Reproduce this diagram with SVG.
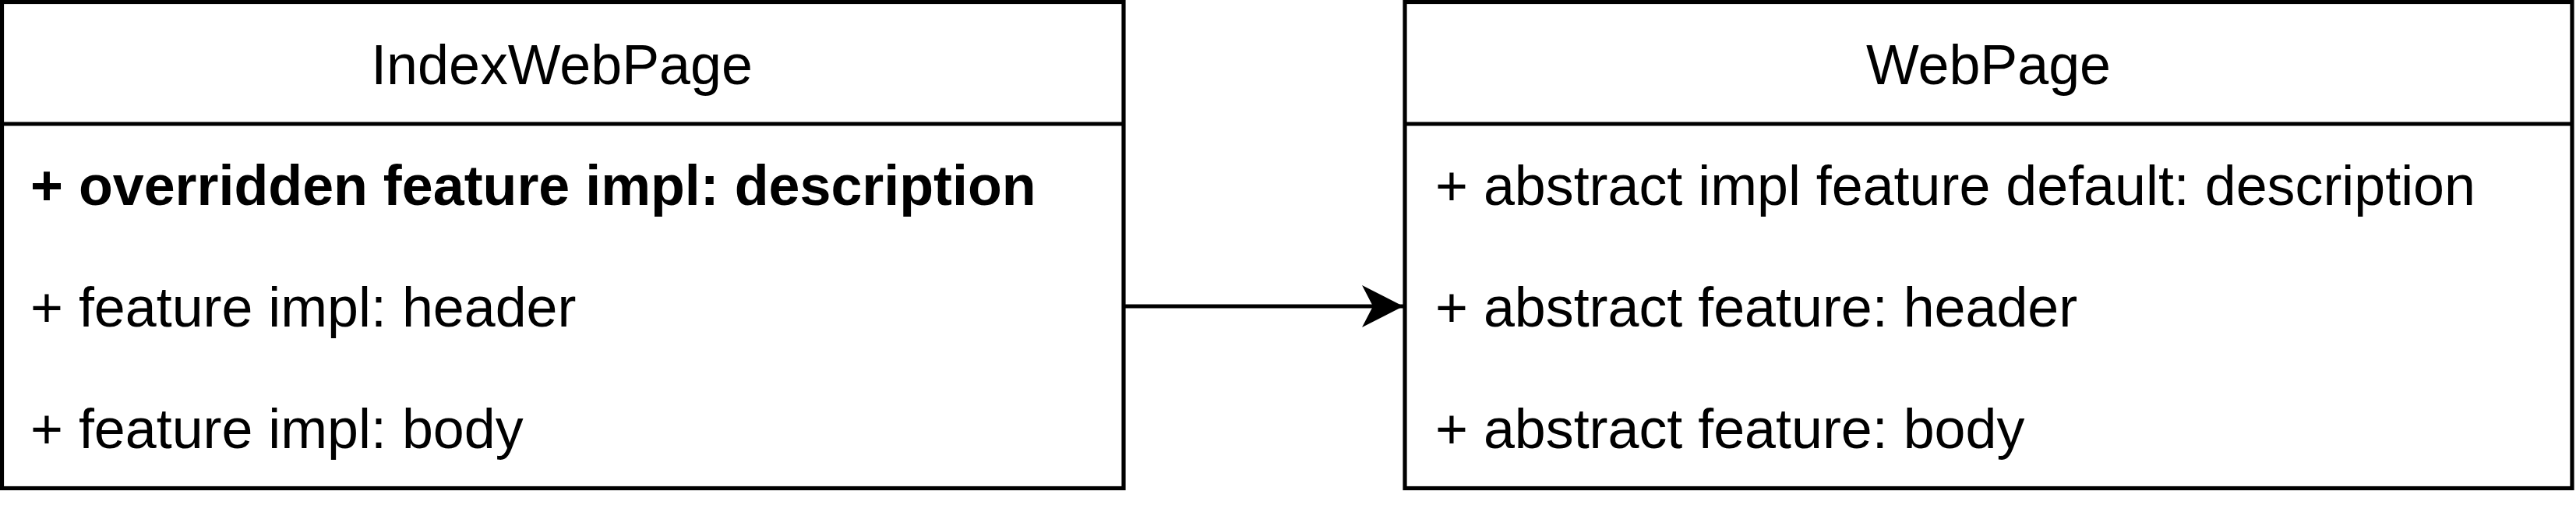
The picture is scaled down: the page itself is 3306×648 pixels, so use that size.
<svg xmlns="http://www.w3.org/2000/svg" width="3306" height="648" viewBox="0 0 3306 648">
<style>
.box{fill:#ffffff;stroke:#000000;stroke-width:5.2}
.sep{stroke:#000000;stroke-width:5.2}
.t{font-family:"Liberation Sans",Arial,Helvetica,sans-serif;font-size:71.8px;fill:#000000}
.title{text-anchor:middle}
.b{font-weight:bold}
.edge{stroke:#000000;stroke-width:5;fill:none}
</style>
<defs>
<marker id="arr" markerUnits="userSpaceOnUse" markerWidth="60" markerHeight="60" refX="53" refY="27" orient="auto">
<path d="M53,27 L0,0 L14,27 L0,54 Z" fill="#000000"/>
</marker>
</defs>
<rect width="3306" height="648" fill="#ffffff"/>
<g id="IndexWebPage">
<rect class="box" x="2.5" y="2.5" width="1439.5" height="624"/>
<line class="sep" x1="2.5" y1="159" x2="1442" y2="159"/>
<text class="t title" x="721" y="108">IndexWebPage</text>
<text class="t b" x="39" y="263">+ overridden feature impl: description</text>
<text class="t" x="39" y="419">+ feature impl: header</text>
<text class="t" x="39" y="575">+ feature impl: body</text>
</g>
<g id="WebPage">
<rect class="box" x="1803" y="2.5" width="1498" height="624"/>
<line class="sep" x1="1803" y1="159" x2="3301" y2="159"/>
<text class="t title" x="2552" y="108">WebPage</text>
<text class="t" x="1842" y="263">+ abstract impl feature default: description</text>
<text class="t" x="1842" y="419">+ abstract feature: header</text>
<text class="t" x="1842" y="575">+ abstract feature: body</text>
</g>
<g id="connectors">
<line class="edge" x1="1442" y1="393" x2="1801" y2="393" marker-end="url(#arr)"/>
</g>
</svg>
